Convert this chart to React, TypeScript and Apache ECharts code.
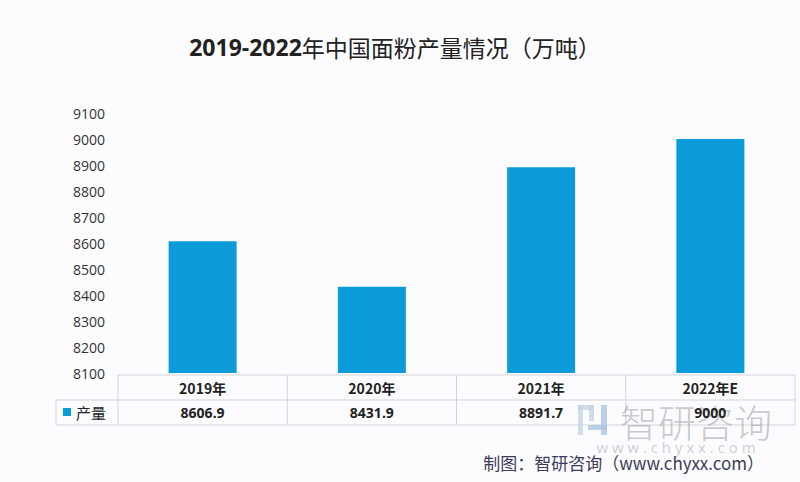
import React, { useEffect, useRef } from "react";
import * as echarts from "echarts";

const titleYears = "2019-2022";
const titleRest = "年中国面粉产量情况（万吨）";
const categories = ["2019年", "2020年", "2021年", "2022年E"];
const seriesName = "产量";
const values = [8606.9, 8431.9, 8891.7, 9000];
const valueLabels = ["8606.9", "8431.9", "8891.7", "9000"];
const yMin = 8100;
const yMax = 9100;
const yStep = 100;
const source = "制图：智研咨询（www.chyxx.com）";
const watermarkName = "智研咨询";
const watermarkUrl = "w w w . c h y x x . c o m";

const W = 800;
const H = 482;
const G_LEFT = 118;
const G_RIGHT = 795;
const G_TOP = 113;
const G_BOTTOM = 373;
const ROW1 = 375;
const ROW2 = 400;
const ROW3 = 425;
const TABLE_LEFT = 56;
const BLUE = "#0a9bd8";
const LINE = "#d0d3d8";

export default function App() {
  const ref = useRef<HTMLDivElement>(null);
  useEffect(() => {
    if (!ref.current) return;
    const chart = echarts.init(ref.current, null, { renderer: "svg" });
    const colW = (G_RIGHT - G_LEFT) / categories.length;
    const lineStyle = { stroke: LINE, lineWidth: 1 };
    const tableLines: any[] = [
      { type: "line", shape: { x1: G_LEFT, y1: ROW1, x2: G_RIGHT, y2: ROW1 }, style: lineStyle },
      { type: "line", shape: { x1: TABLE_LEFT, y1: ROW2, x2: G_RIGHT, y2: ROW2 }, style: lineStyle },
      { type: "line", shape: { x1: TABLE_LEFT, y1: ROW3, x2: G_RIGHT, y2: ROW3 }, style: lineStyle },
      { type: "line", shape: { x1: TABLE_LEFT, y1: ROW2, x2: TABLE_LEFT, y2: ROW3 }, style: lineStyle },
    ];
    for (let i = 0; i <= categories.length; i++) {
      const x = G_LEFT + colW * i;
      tableLines.push({ type: "line", shape: { x1: x, y1: ROW1, x2: x, y2: ROW3 }, style: lineStyle });
    }
    chart.setOption({
      animation: false,
      backgroundColor: "#fcfcfe",
      title: {
        text: `{d|${titleYears}}{c|${titleRest}}`,
        left: 390,
        textAlign: "center",
        top: 30,
        textStyle: {
          rich: {
            d: {
              fontFamily: "'Open Sans', sans-serif",
              fontSize: 23,
              fontWeight: "bold",
              color: "#222",
            },
            c: {
              fontFamily: "'Noto Sans CJK SC', sans-serif",
              fontSize: 23,
              fontWeight: "normal",
              color: "#222",
            },
          },
        },
      },
      grid: { left: G_LEFT, right: W - G_RIGHT, top: G_TOP, bottom: H - G_BOTTOM, containLabel: false },
      xAxis: {
        type: "category",
        data: categories,
        axisLine: { show: false },
        axisTick: { show: false },
        axisLabel: {
          interval: 0,
          margin: 2,
          formatter: (v: string, i: number) => `{a|${v}}\n{b|${valueLabels[i]}}`,
          rich: {
            a: {
              fontFamily: "'Noto Sans CJK SC', 'Open Sans', sans-serif",
              fontSize: 14,
              fontWeight: "bold",
              color: "#222",
              lineHeight: 25,
            },
            b: {
              fontFamily: "'Open Sans', 'Noto Sans CJK SC', sans-serif",
              fontSize: 14,
              fontWeight: "bold",
              color: "#222",
              lineHeight: 25,
            },
          },
        },
      },
      yAxis: {
        type: "value",
        min: yMin,
        max: yMax,
        interval: yStep,
        axisLine: { show: false },
        axisTick: { show: false },
        splitLine: { show: false },
        axisLabel: {
          margin: 13,
          formatter: (v: number) => String(v),
          fontFamily: "'Open Sans', sans-serif",
          fontSize: 14,
          color: "#333",
        },
      },
      series: [
        {
          name: seriesName,
          type: "bar",
          data: values,
          barWidth: 68,
          itemStyle: { color: BLUE },
        },
      ],
      graphic: [
        ...tableLines,
        { type: "rect", shape: { x: 63, y: 408, width: 8, height: 8 }, style: { fill: BLUE } },
        {
          type: "text",
          x: 76,
          y: 412.5,
          style: {
            text: seriesName,
            fontFamily: "'Noto Sans CJK SC', sans-serif",
            fontSize: 15,
            fill: "#222",
            verticalAlign: "middle",
          },
        },
        // watermark logo
        { type: "rect", shape: { x: 578, y: 405, width: 16, height: 5 }, style: { fill: "#c5d3e6", opacity: 0.8 } },
        { type: "rect", shape: { x: 578, y: 405, width: 5, height: 30 }, style: { fill: "#c5d3e6", opacity: 0.8 } },
        { type: "rect", shape: { x: 589, y: 405, width: 5, height: 16 }, style: { fill: "#c5d3e6", opacity: 0.8 } },
        { type: "rect", shape: { x: 601, y: 405, width: 6, height: 30 }, style: { fill: "#a9c4e4", opacity: 0.8 } },
        { type: "rect", shape: { x: 588, y: 425, width: 19, height: 5 }, style: { fill: "#a9c4e4", opacity: 0.8 } },
        {
          type: "text",
          x: 620,
          y: 420,
          style: {
            text: watermarkName,
            fontFamily: "'Noto Sans CJK SC', sans-serif",
            fontSize: 38,
            fontWeight: 300,
            fill: "#9a9ea6",
            opacity: 0.55,
            verticalAlign: "middle",
          },
        },
        {
          type: "text",
          x: 676,
          y: 447,
          style: {
            text: watermarkUrl,
            fontFamily: "'Open Sans', sans-serif",
            fontSize: 15,
            fill: "#a0a4aa",
            opacity: 0.55,
            align: "center",
            verticalAlign: "middle",
          },
        },
        {
          type: "text",
          x: 764,
          y: 462,
          style: {
            text: source,
            fontFamily: "'Noto Sans CJK SC', sans-serif",
            fontSize: 17,
            fill: "#3c3b5a",
            align: "right",
            verticalAlign: "middle",
          },
        },
      ],
    });
    return () => chart.dispose();
  }, []);
  return <div ref={ref} style={{ position: "fixed", left: 0, top: 0, width: W, height: H }} />;
}
